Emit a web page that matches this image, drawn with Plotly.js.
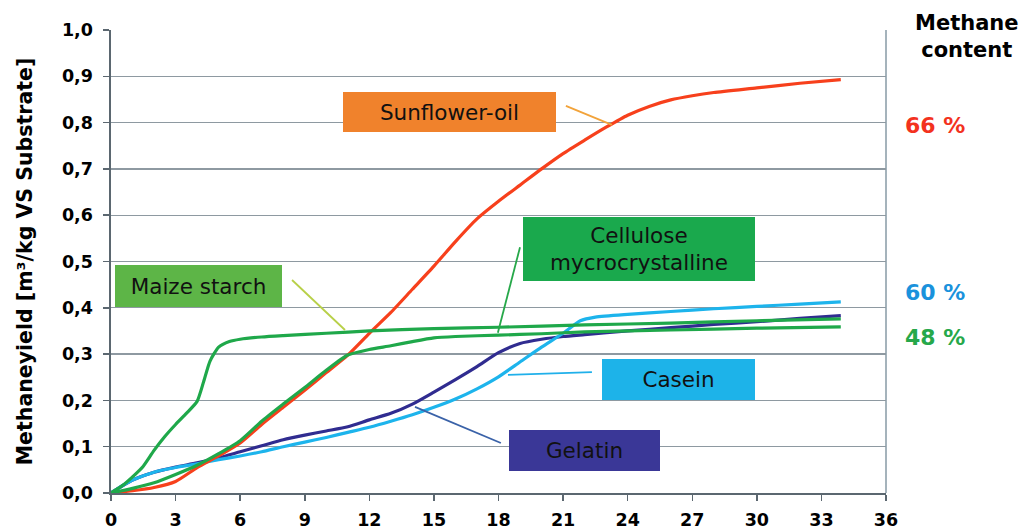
<!DOCTYPE html>
<html>
<head>
<meta charset="utf-8">
<script src="https://cdn.plot.ly/plotly-3.0.1.min.js"></script>
<style>
  html, body { margin: 0; padding: 0; background: #ffffff; }
  #chart { width: 1026px; height: 529px; }
</style>
</head>
<body>
<div id="chart"></div>
<script>
// ---- Data (days vs. methane yield, m3/kg VS) ----
const sunflowerDays  = [0, 1, 2, 3, 4, 5, 6, 7, 8, 9, 10, 11, 12, 13, 14, 15, 16, 17, 18, 19, 20, 21, 22, 23, 24, 25, 26, 27, 28, 30, 32, 33.9];
const sunflowerYield = [0, 0.005, 0.012, 0.025, 0.055, 0.08, 0.108, 0.148, 0.185, 0.222, 0.26, 0.298, 0.345, 0.39, 0.44, 0.49, 0.543, 0.592, 0.63, 0.665, 0.70, 0.733, 0.762, 0.79, 0.816, 0.835, 0.849, 0.858, 0.865, 0.875, 0.885, 0.893];

const maizeDays  = [0, 0.5, 1, 1.5, 2, 2.5, 3, 3.5, 4, 4.3, 4.6, 5, 5.5, 6, 7, 8, 10, 12, 15, 18, 22, 26, 30, 33.9];
const maizeYield = [0, 0.015, 0.035, 0.058, 0.092, 0.122, 0.148, 0.172, 0.198, 0.24, 0.285, 0.315, 0.327, 0.332, 0.337, 0.34, 0.345, 0.35, 0.355, 0.358, 0.363, 0.367, 0.372, 0.376];

const celluloseDays  = [0, 1, 2, 3, 4, 5, 6, 7, 8, 9, 10, 11, 12, 13, 14, 15, 16, 18, 20, 22, 26, 30, 33.9];
const celluloseYield = [0, 0.01, 0.022, 0.04, 0.06, 0.085, 0.113, 0.155, 0.192, 0.228, 0.265, 0.298, 0.31, 0.318, 0.327, 0.335, 0.338, 0.341, 0.344, 0.348, 0.352, 0.356, 0.359];

const gelatinDays  = [0, 1, 2, 3, 4, 5, 6, 7, 8, 9, 10, 11, 12, 13, 14, 15, 16, 17, 18, 19, 20, 21, 22, 24, 26, 28, 30, 32, 33.9];
const gelatinYield = [0, 0.028, 0.045, 0.056, 0.065, 0.076, 0.089, 0.102, 0.115, 0.125, 0.134, 0.143, 0.158, 0.172, 0.192, 0.218, 0.245, 0.273, 0.303, 0.323, 0.332, 0.338, 0.342, 0.35, 0.357, 0.364, 0.37, 0.377, 0.383];

const caseinDays  = [0, 0.5, 1, 2, 3, 4, 5, 6, 7, 8, 9, 10, 11, 12, 13, 14, 15, 16, 17, 18, 19, 20, 21, 21.8, 22.5, 24, 26, 28, 30, 32, 33.9];
const caseinYield = [0, 0.015, 0.028, 0.045, 0.055, 0.063, 0.072, 0.08, 0.089, 0.1, 0.11, 0.12, 0.131, 0.142, 0.155, 0.169, 0.185, 0.203, 0.225, 0.251, 0.283, 0.315, 0.345, 0.372, 0.38, 0.386, 0.392, 0.398, 0.403, 0.408, 0.413];

const xTickVals = [0, 3, 6, 9, 12, 15, 18, 21, 24, 27, 30, 33, 36];
const yTickVals = [0, 0.1, 0.2, 0.3, 0.4, 0.5, 0.6, 0.7, 0.8, 0.9, 1.0];

const substrateLabels = ['Sunflower-oil', 'Maize starch', 'Cellulose<br>mycrocrystalline', 'Casein', 'Gelatin'];
const methaneContent  = ['66 %', '60 %', '48 %'];

// ---- Styles ----
const C = {
  sunflower: '#f7401c',
  green: '#1fa84a',
  casein: '#1db4ec',
  gelatin: '#302c90'
};
const FONT = 'DejaVu Sans, Verdana, sans-serif';

function tr(x, y, color, name) {
  return {
    x: x, y: y, name: name, type: 'scatter', mode: 'lines',
    line: { color: color, width: 3.2, shape: 'spline', smoothing: 0.6 },
    hoverinfo: 'skip'
  };
}

const traces = [
  tr(gelatinDays, gelatinYield, C.gelatin, 'Gelatin'),
  tr(caseinDays, caseinYield, C.casein, 'Casein'),
  tr(sunflowerDays, sunflowerYield, C.sunflower, 'Sunflower-oil'),
  tr(celluloseDays, celluloseYield, C.green, 'Cellulose mycrocrystalline'),
  tr(maizeDays, maizeYield, C.green, 'Maize starch')
];

const boxFont = { family: FONT, size: 21.5, color: '#111111' };
function box(text, x, y, w, h, bg) {
  return {
    xref: 'x', yref: 'y', x: x, y: y, text: text, showarrow: false,
    width: w, height: h, bgcolor: bg, borderpad: 0, borderwidth: 0,
    align: 'center', valign: 'middle', font: boxFont
  };
}
function leader(x0, y0, x1, y1, color) {
  return { type: 'line', xref: 'x', yref: 'y', x0: x0, y0: y0, x1: x1, y1: y1,
           line: { color: color, width: 1.8 } };
}

const annotations = [
  box(substrateLabels[0], 15.72, 0.823, 213, 40, '#f0822c'),
  box(substrateLabels[1], 4.06, 0.447, 167, 42, '#5db547'),
  box(substrateLabels[2], 24.52, 0.527, 232, 64, '#1aa94d'),
  box(substrateLabels[3], 26.36, 0.245, 153, 41, '#1db3e9'),
  box(substrateLabels[4], 21.99, 0.092, 151, 41, '#3a3797'),
  { xref: 'paper', yref: 'paper', x: 1.1045, y: 0.985, text: '<b>Methane<br>content</b>',
    showarrow: false, xanchor: 'center', yanchor: 'middle', align: 'center',
    font: { family: FONT, size: 21, color: '#000000' } },
  { xref: 'paper', yref: 'paper', x: 1.1045, y: 0.825, text: '<b>' + methaneContent[0] + '</b>',
    showarrow: false, font: { family: FONT, size: 22, color: '#f3321e' } },
  { xref: 'paper', yref: 'paper', x: 1.1045, y: 0.432, text: '<b>' + methaneContent[1] + '</b>',
    showarrow: false, font: { family: FONT, size: 22, color: '#1a92dc' } },
  { xref: 'paper', yref: 'paper', x: 1.1045, y: 0.335, text: '<b>' + methaneContent[2] + '</b>',
    showarrow: false, font: { family: FONT, size: 22, color: '#26a84a' } }
];

const shapes = [
  leader(21.13, 0.836, 23.27, 0.795, '#f2a33a'),
  leader(8.41, 0.46, 10.87, 0.352, '#b8d048'),
  leader(19.0, 0.531, 17.97, 0.346, '#27a84a'),
  leader(22.34, 0.261, 18.44, 0.255, '#20b0ea'),
  leader(18.11, 0.108, 14.12, 0.186, '#3a62a8'),
  { type: 'line', xref: 'paper', yref: 'paper', x0: 1, y0: 0, x1: 1, y1: 1,
    line: { color: '#8fa0ab', width: 1.6 }, layer: 'below' }
];

const tickFont = { family: FONT, size: 17.5, color: '#000000', weight: 'bold' };

const layout = {
  width: 1026, height: 529,
  margin: { l: 111, r: 140, t: 30, b: 36, pad: 0 },
  paper_bgcolor: '#ffffff', plot_bgcolor: '#ffffff',
  showlegend: false,
  separators: ',.',
  xaxis: {
    range: [0, 36], tickvals: xTickVals, ticks: 'outside', ticklen: 6, tickwidth: 1.5,
    tickcolor: '#5b6770', showline: true, linecolor: '#5b6770', linewidth: 1.6,
    showgrid: false, zeroline: false, tickfont: tickFont, ticklabelstandoff: 4
  },
  yaxis: {
    range: [0, 1], tickvals: yTickVals, tickformat: '.1f', ticks: 'outside', ticklen: 6, tickwidth: 1.5,
    tickcolor: '#5b6770', showline: true, linecolor: '#5b6770', linewidth: 1.6,
    showgrid: true, gridcolor: '#8e99a1', gridwidth: 1.4, zeroline: false,
    tickfont: tickFont, ticklabelstandoff: 7,
    title: { text: 'Methaneyield [m³/kg VS Substrate]', standoff: 24,
             font: { family: FONT, size: 20.5, color: '#000000', weight: 'bold' } }
  },
  annotations: annotations,
  shapes: shapes
};

Plotly.newPlot('chart', traces, layout, { displayModeBar: false, staticPlot: true });
</script>
</body>
</html>
